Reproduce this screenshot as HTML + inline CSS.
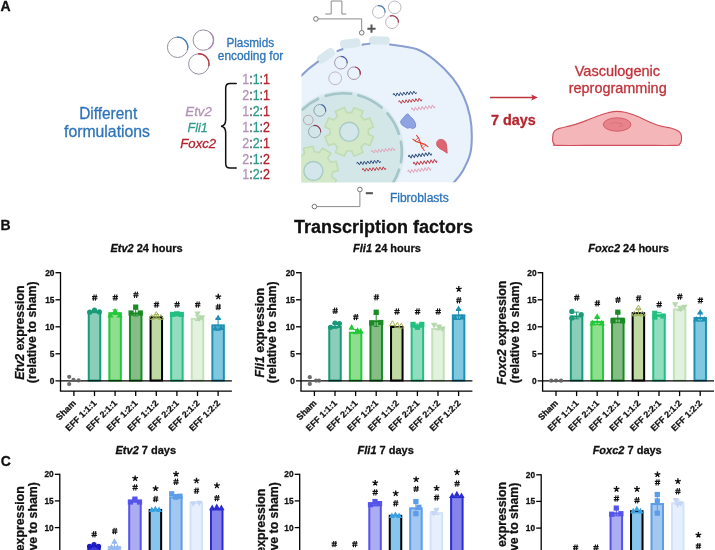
<!DOCTYPE html><html><head><meta charset="utf-8"><title>Figure</title>
<style>html,body{margin:0;padding:0;background:#fff;}body{width:715px;height:550px;overflow:hidden;}svg{display:block;will-change:transform;font-family:"Liberation Sans",sans-serif;}.k text{stroke:#111;stroke-width:0.28px;}</style></head><body>
<svg width="715" height="550" viewBox="0 0 715 550">
<rect width="715" height="550" fill="#fff"/>
<text x="0.4" y="10.7" font-size="14" font-weight="bold" fill="#111" stroke="#111" stroke-width="0.3">A</text>
<circle cx="177.6" cy="47.3" r="10.2" fill="none" stroke="#96919f" stroke-width="1.0"/><path d="M176.71,37.14A10.2,10.2 0 0 1 187.45,49.94" fill="none" stroke="#3c80c0" stroke-width="1.35"/>
<circle cx="203.3" cy="40.1" r="10.2" fill="none" stroke="#96919f" stroke-width="1.0"/><path d="M209.86,32.29A10.2,10.2 0 0 1 208.40,48.93" fill="none" stroke="#a98bb0" stroke-width="1.35"/>
<circle cx="198.8" cy="64.0" r="10.2" fill="none" stroke="#96919f" stroke-width="1.0"/><path d="M197.91,53.84A10.2,10.2 0 0 1 208.78,66.12" fill="none" stroke="#b83542" stroke-width="1.35"/>
<text x="250.3" y="46.5" text-anchor="middle" font-size="12.5" fill="#2e74b8" textLength="47.8" lengthAdjust="spacingAndGlyphs" stroke="#2e74b8" stroke-width="0.3">Plasmids</text>
<text x="250.5" y="60.2" text-anchor="middle" font-size="12.3" fill="#2e74b8" textLength="65.4" lengthAdjust="spacingAndGlyphs" stroke="#2e74b8" stroke-width="0.3">encoding for</text>
<text x="108.2" y="118.6" text-anchor="middle" font-size="16.2" fill="#2e74b8" textLength="58" lengthAdjust="spacingAndGlyphs" stroke="#2e74b8" stroke-width="0.3">Different</text>
<text x="107" y="136.9" text-anchor="middle" font-size="16.2" fill="#2e74b8" textLength="86" lengthAdjust="spacingAndGlyphs" stroke="#2e74b8" stroke-width="0.3">formulations</text>
<text x="198.6" y="115.6" text-anchor="middle" font-size="13.6" font-style="italic" fill="#b394b8" textLength="26.6" lengthAdjust="spacingAndGlyphs" stroke="#b394b8" stroke-width="0.3">Etv2</text>
<text x="197.6" y="131.6" text-anchor="middle" font-size="13.6" font-style="italic" fill="#2f9c8c" textLength="20.1" lengthAdjust="spacingAndGlyphs" stroke="#2f9c8c" stroke-width="0.3">Fli1</text>
<text x="198.2" y="148.1" text-anchor="middle" font-size="13.6" font-style="italic" fill="#b4222c" textLength="35.9" lengthAdjust="spacingAndGlyphs" stroke="#b4222c" stroke-width="0.3">Foxc2</text>
<text x="242.3" y="84.0" font-size="14" textLength="27.7" lengthAdjust="spacingAndGlyphs"><tspan fill="#b394b8" stroke="#b394b8" stroke-width="0.3">1</tspan><tspan fill="#555" stroke="#555" stroke-width="0.3">:</tspan><tspan fill="#2f9c8c" stroke="#2f9c8c" stroke-width="0.3">1</tspan><tspan fill="#555" stroke="#555" stroke-width="0.3">:</tspan><tspan fill="#b4222c" stroke="#b4222c" stroke-width="0.3">1</tspan></text>
<text x="242.3" y="99.9" font-size="14" textLength="27.7" lengthAdjust="spacingAndGlyphs"><tspan fill="#b394b8" stroke="#b394b8" stroke-width="0.3">2</tspan><tspan fill="#555" stroke="#555" stroke-width="0.3">:</tspan><tspan fill="#2f9c8c" stroke="#2f9c8c" stroke-width="0.3">1</tspan><tspan fill="#555" stroke="#555" stroke-width="0.3">:</tspan><tspan fill="#b4222c" stroke="#b4222c" stroke-width="0.3">1</tspan></text>
<text x="242.3" y="115.8" font-size="14" textLength="27.7" lengthAdjust="spacingAndGlyphs"><tspan fill="#b394b8" stroke="#b394b8" stroke-width="0.3">1</tspan><tspan fill="#555" stroke="#555" stroke-width="0.3">:</tspan><tspan fill="#2f9c8c" stroke="#2f9c8c" stroke-width="0.3">2</tspan><tspan fill="#555" stroke="#555" stroke-width="0.3">:</tspan><tspan fill="#b4222c" stroke="#b4222c" stroke-width="0.3">1</tspan></text>
<text x="242.3" y="131.7" font-size="14" textLength="27.7" lengthAdjust="spacingAndGlyphs"><tspan fill="#b394b8" stroke="#b394b8" stroke-width="0.3">1</tspan><tspan fill="#555" stroke="#555" stroke-width="0.3">:</tspan><tspan fill="#2f9c8c" stroke="#2f9c8c" stroke-width="0.3">1</tspan><tspan fill="#555" stroke="#555" stroke-width="0.3">:</tspan><tspan fill="#b4222c" stroke="#b4222c" stroke-width="0.3">2</tspan></text>
<text x="242.3" y="147.6" font-size="14" textLength="27.7" lengthAdjust="spacingAndGlyphs"><tspan fill="#b394b8" stroke="#b394b8" stroke-width="0.3">2</tspan><tspan fill="#555" stroke="#555" stroke-width="0.3">:</tspan><tspan fill="#2f9c8c" stroke="#2f9c8c" stroke-width="0.3">2</tspan><tspan fill="#555" stroke="#555" stroke-width="0.3">:</tspan><tspan fill="#b4222c" stroke="#b4222c" stroke-width="0.3">1</tspan></text>
<text x="242.3" y="163.5" font-size="14" textLength="27.7" lengthAdjust="spacingAndGlyphs"><tspan fill="#b394b8" stroke="#b394b8" stroke-width="0.3">2</tspan><tspan fill="#555" stroke="#555" stroke-width="0.3">:</tspan><tspan fill="#2f9c8c" stroke="#2f9c8c" stroke-width="0.3">1</tspan><tspan fill="#555" stroke="#555" stroke-width="0.3">:</tspan><tspan fill="#b4222c" stroke="#b4222c" stroke-width="0.3">2</tspan></text>
<text x="242.3" y="179.4" font-size="14" textLength="27.7" lengthAdjust="spacingAndGlyphs"><tspan fill="#b394b8" stroke="#b394b8" stroke-width="0.3">1</tspan><tspan fill="#555" stroke="#555" stroke-width="0.3">:</tspan><tspan fill="#2f9c8c" stroke="#2f9c8c" stroke-width="0.3">2</tspan><tspan fill="#555" stroke="#555" stroke-width="0.3">:</tspan><tspan fill="#b4222c" stroke="#b4222c" stroke-width="0.3">2</tspan></text>
<path d="M236.2,83.4 H230 Q225.7,83.4 225.7,88 V119.5 Q225.7,125.8 221,126.2 Q225.7,126.6 225.7,133 V163.4 Q225.7,168 230,168 H236.2" fill="none" stroke="#111" stroke-width="1.5" stroke-linecap="round"/>
<defs><clipPath id="cellclip"><rect x="301.5" y="0" width="200" height="182.2"/></clipPath></defs>
<g clip-path="url(#cellclip)">
<path d="M262.0,160.0C261.7,148.0 266.4,129.2 270.0,118.0C273.6,106.8 278.6,100.1 283.8,93.0C289.0,85.9 295.8,80.7 301.4,75.5C307.0,70.3 311.6,65.9 317.7,61.8C323.8,57.7 330.1,53.8 337.7,50.9C345.3,48.0 356.6,45.7 363.2,44.5C369.8,43.3 372.5,43.5 377.0,43.5C381.5,43.5 383.4,43.6 390.0,44.5C396.6,45.4 409.0,46.5 416.4,49.1C423.8,51.7 428.4,55.1 434.5,60.0C440.6,64.8 447.8,72.1 452.7,78.2C457.6,84.3 460.7,90.0 463.6,96.4C466.5,102.8 468.6,109.7 470.0,116.4C471.4,123.1 471.8,130.1 471.8,136.4C471.8,142.8 471.5,148.8 470.0,154.5C468.5,160.2 465.3,166.3 462.7,170.9C460.1,175.5 458.9,177.0 454.5,181.8C450.1,186.7 445.1,193.3 436.0,200.0C426.9,206.7 414.3,217.0 400.0,222.0C385.7,227.0 366.7,231.2 350.0,230.0C333.3,228.8 313.0,221.7 300.0,215.0C287.0,208.3 278.3,199.2 272.0,190.0C265.7,180.8 262.3,172.0 262.0,160.0Z" fill="#eaf3fc"/>
<rect x="340.05" y="39.0" width="20.5" height="9" rx="4" fill="#d9e8ee" transform="rotate(-7 350.3 43.5)"/>
<rect x="368.9" y="36.4" width="21" height="8.2" rx="4" fill="#d9e8ee" transform="rotate(1 379.4 40.5)"/>
<rect x="316.15" y="51.3" width="19.5" height="9" rx="4" fill="#d9e8ee" transform="rotate(-35 325.9 55.8)"/>
<path d="M390.0,44.5C394.4,45.3 409.0,46.5 416.4,49.1C423.8,51.7 428.4,55.1 434.5,60.0C440.6,64.8 447.8,72.1 452.7,78.2C457.6,84.3 460.7,90.0 463.6,96.4C466.5,102.8 468.6,109.7 470.0,116.4C471.4,123.1 471.8,130.1 471.8,136.4C471.8,142.8 471.5,148.8 470.0,154.5C468.5,160.2 465.3,166.3 462.7,170.9C460.1,175.5 457.3,178.6 454.5,181.8C451.7,185.0 447.4,188.6 446.0,190.0" fill="none" stroke="#8a9ed0" stroke-width="2.1" stroke-linecap="round"/>
<path d="M300,77 Q308,68.5 318,61.6" fill="none" stroke="#8a9ed0" stroke-width="2.1" stroke-linecap="round"/>
<path d="M337.5,51 Q340,50 342.5,49.2" fill="none" stroke="#8a9ed0" stroke-width="2.1" stroke-linecap="round"/>
<path d="M362.5,44.6 Q366,44 369.5,43.7" fill="none" stroke="#8a9ed0" stroke-width="2.1" stroke-linecap="round"/>
<circle cx="343" cy="152" r="61.5" fill="#dcebef"/>
<circle cx="343" cy="152" r="58.5" fill="#d3e6e8"/>
<path d="M287.7,131.9A58.8,58.8 0 0 1 297.3,115.0M302.2,109.7A58.8,58.8 0 0 1 318.2,98.7M325.8,95.8A58.8,58.8 0 0 1 351.2,93.8M358.2,95.2A58.8,58.8 0 0 1 381.6,107.6M387.4,113.4A58.8,58.8 0 0 1 398.9,133.8M400.9,141.8A58.8,58.8 0 0 1 400.9,162.2M399.1,169.7A58.8,58.8 0 0 1 387.4,190.6M382.3,195.7A58.8,58.8 0 0 1 363.1,207.3" fill="none" stroke="#a4c5c9" stroke-width="2.6" stroke-linecap="round"/>
<path d="M368.34,134.29L373.52,136.64L369.82,145.58L364.50,143.57L360.97,147.10L362.98,152.42L354.04,156.12L351.69,150.94L346.71,150.94L344.36,156.12L335.42,152.42L337.43,147.10L333.90,143.57L328.58,145.58L324.88,136.64L330.06,134.29L330.06,129.31L324.88,126.96L328.58,118.02L333.90,120.03L337.43,116.50L335.42,111.18L344.36,107.48L346.71,112.66L351.69,112.66L354.04,107.48L362.98,111.18L360.97,116.50L364.50,120.03L369.82,118.02L373.52,126.96L368.34,129.31Z" fill="#d2e8c6" stroke="#c0dcb2" stroke-width="1.6" stroke-linejoin="round"/><circle cx="349.2" cy="131.8" r="9.6" fill="#d3e6ea" stroke="#aacbc4" stroke-width="1.4"/>
<path d="M331.76,176.94L336.43,180.19L331.16,188.31L326.30,185.36L322.18,188.18L323.19,193.79L313.72,195.80L312.36,190.27L307.46,189.36L304.21,194.03L296.09,188.76L299.04,183.90L296.22,179.78L290.61,180.79L288.60,171.32L294.13,169.96L295.04,165.06L290.37,161.81L295.64,153.69L300.50,156.64L304.62,153.82L303.61,148.21L313.08,146.20L314.44,151.73L319.34,152.64L322.59,147.97L330.71,153.24L327.76,158.10L330.58,162.22L336.19,161.21L338.20,170.68L332.67,172.04Z" fill="#d2e8c6" stroke="#c0dcb2" stroke-width="1.6" stroke-linejoin="round"/><circle cx="313.4" cy="171.0" r="9.5" fill="#d3e6ea" stroke="#aacbc4" stroke-width="1.4"/>
<circle cx="319.8" cy="110.4" r="5.9" fill="none" stroke="#8398aa" stroke-width="0.9"/><path d="M321.33,104.70A5.9,5.9 0 0 1 325.57,111.63" fill="none" stroke="#4a6cb4" stroke-width="1.25"/>
<circle cx="308.3" cy="120" r="4.8" fill="none" stroke="#b79fae" stroke-width="0.9"/>
<circle cx="314.6" cy="131.6" r="6.1" fill="none" stroke="#8ea3ab" stroke-width="0.9"/><path d="M313.54,125.59A6.1,6.1 0 0 1 320.68,132.13" fill="none" stroke="#933650" stroke-width="1.25"/>
<circle cx="340.9" cy="62.7" r="6.3" fill="none" stroke="#9a8ea8" stroke-width="0.9"/><path d="M340.90,56.40A6.3,6.3 0 0 1 347.18,63.25" fill="none" stroke="#4a62b4" stroke-width="1.25"/>
<circle cx="354.0" cy="73.2" r="6.3" fill="none" stroke="#a08e9c" stroke-width="0.9"/><path d="M355.09,67.00A6.3,6.3 0 0 1 360.16,74.51" fill="none" stroke="#9a3850" stroke-width="1.25"/>
<circle cx="335.2" cy="78.3" r="6.4" fill="none" stroke="#bcaebc" stroke-width="0.9"/>
<path d="M0,0L0.84,-1.55L2.51,1.55L4.18,-1.55L5.86,1.55L7.53,-1.55L9.21,1.55L10.88,-1.55L12.55,1.55L14.23,-1.55L15.90,1.55L17.58,-1.55L19.25,1.55L20.92,-1.55L22.60,1.55L23.43,0" transform="translate(393.1,94.9) rotate(-6.12)" fill="none" stroke="#2c4a78" stroke-width="0.95" stroke-linejoin="round"/>
<path d="M0,0L0.83,-1.55L2.49,1.55L4.15,-1.55L5.81,1.55L7.48,-1.55L9.14,1.55L10.80,-1.55L12.46,1.55L14.12,-1.55L15.78,1.55L17.44,-1.55L19.10,1.55L20.77,-1.55L22.43,1.55L23.26,0" transform="translate(398.7,102.2) rotate(-6.67)" fill="none" stroke="#bf3a44" stroke-width="0.95" stroke-linejoin="round"/>
<path d="M0,0L0.86,-1.55L2.57,1.55L4.29,-1.55L6.00,1.55L7.71,-1.55L9.43,1.55L11.14,-1.55L12.86,1.55L14.57,-1.55L16.29,1.55L18.00,-1.55L19.72,1.55L21.43,-1.55L23.14,1.55L24.00,0" transform="translate(411.3,109.5) rotate(-7.42)" fill="none" stroke="#e3a3b9" stroke-width="0.95" stroke-linejoin="round"/>
<path d="M0,0L0.84,-1.55L2.51,1.55L4.18,-1.55L5.85,1.55L7.53,-1.55L9.20,1.55L10.87,-1.55L12.55,1.55L14.22,-1.55L15.89,1.55L17.56,-1.55L19.24,1.55L20.91,-1.55L22.58,1.55L23.42,0" transform="translate(408.4,156.8) rotate(-7.85)" fill="none" stroke="#2c4a78" stroke-width="0.95" stroke-linejoin="round"/>
<path d="M0,0L0.86,-1.55L2.58,1.55L4.30,-1.55L6.02,1.55L7.74,-1.55L9.46,1.55L11.18,-1.55L12.90,1.55L14.62,-1.55L16.35,1.55L18.07,-1.55L19.79,1.55L21.51,-1.55L23.23,1.55L24.09,0" transform="translate(413.2,163.8) rotate(-7.15)" fill="none" stroke="#bf3a44" stroke-width="0.95" stroke-linejoin="round"/>
<path d="M0,0L0.84,-1.55L2.51,1.55L4.18,-1.55L5.85,1.55L7.53,-1.55L9.20,1.55L10.87,-1.55L12.55,1.55L14.22,-1.55L15.89,1.55L17.56,-1.55L19.24,1.55L20.91,-1.55L22.58,1.55L23.42,0" transform="translate(407.7,171.7) rotate(-7.85)" fill="none" stroke="#e3a3b9" stroke-width="0.95" stroke-linejoin="round"/>
<path d="M0,0L0.85,-1.55L2.55,1.55L4.24,-1.55L5.94,1.55L7.64,-1.55L9.34,1.55L11.03,-1.55L12.73,1.55L14.43,-1.55L16.13,1.55L17.82,-1.55L19.52,1.55L21.22,-1.55L22.92,1.55L23.77,0" transform="translate(371.4,151.8) rotate(-6.77)" fill="none" stroke="#e3a3b9" stroke-width="0.95" stroke-linejoin="round"/>
<path d="M0,0L0.85,-1.55L2.55,1.55L4.25,-1.55L5.95,1.55L7.65,-1.55L9.35,1.55L11.06,-1.55L12.76,1.55L14.46,-1.55L16.16,1.55L17.86,-1.55L19.56,1.55L21.26,-1.55L22.96,1.55L23.81,0" transform="translate(356.8,163.6) rotate(-5.54)" fill="none" stroke="#2c4a78" stroke-width="0.95" stroke-linejoin="round"/>
<path d="M0,0L0.85,-1.55L2.54,1.55L4.23,-1.55L5.92,1.55L7.61,-1.55L9.30,1.55L10.99,-1.55L12.68,1.55L14.37,-1.55L16.06,1.55L17.75,-1.55L19.44,1.55L21.13,-1.55L22.82,1.55L23.67,0" transform="translate(362.3,170) rotate(-4.36)" fill="none" stroke="#bf3a44" stroke-width="0.95" stroke-linejoin="round"/>
<path d="M400.4,121.5 L403.5,117.6 L406.6,114.2 L408.2,114.0 L410.2,116.6 L413.2,119.2 L415.6,123.4 L415.4,127.2 L412.8,128.6 L410.2,127.6 L407.4,128.2 L404.2,126.4 L401.6,124.6 Z" fill="#8fa3e3" stroke="#7d92d6" stroke-width="1" stroke-linejoin="round"/>
<path d="M436.6,143.2 Q437.2,139.2 441.2,139.4 Q445.6,139.8 446.4,144.6 Q447,149 447.2,153.2 Q443.6,150.6 439.6,148.4 Q436.2,146.4 436.6,143.2 Z" fill="#dc6473" stroke="#cc4f60" stroke-width="0.8" stroke-linejoin="round"/>
<g transform="translate(420.4,142.9) rotate(45)" fill="none" stroke="#e2412c" stroke-width="1.1" stroke-linecap="round"><path d="M-8,-2.6 Q-4,-2.8 0,0 Q4,2.8 8,2.6"/><path d="M-8,2.6 Q-4,2.8 0,0 Q4,-2.8 8,-2.6"/><path d="M-5.2,-2.2V2.2M-3,-1.4V1.4M3,-1.4V1.4M5.2,-2.2V2.2" stroke-width="0.7"/></g>
</g>
<path d="M325.3,14H331.2V1H341.9V14H346.3" fill="none" stroke="#8a8a8a" stroke-width="1"/>
<path d="M318.2,18.9H361.7V30.5" fill="none" stroke="#8a8a8a" stroke-width="1"/>
<circle cx="315.9" cy="18.9" r="2.3" fill="#fff" stroke="#666" stroke-width="0.9"/>
<circle cx="361.7" cy="32.8" r="2.3" fill="#fff" stroke="#666" stroke-width="0.9"/>
<path d="M367.4,28.7H375.6M371.5,24.6V32.8" stroke="#555" stroke-width="2" fill="none"/>
<path d="M359.9,191.8V206.6H316.7" fill="none" stroke="#8a8a8a" stroke-width="1"/>
<circle cx="359.9" cy="189.5" r="2.3" fill="#fff" stroke="#666" stroke-width="0.9"/>
<circle cx="314.4" cy="206.6" r="2.3" fill="#fff" stroke="#666" stroke-width="0.9"/>
<path d="M365.8,193.2H372.9" stroke="#555" stroke-width="2.1" fill="none"/>
<circle cx="378.8" cy="11.9" r="6.3" fill="none" stroke="#b2aeba" stroke-width="0.9"/><path d="M377.71,5.70A6.3,6.3 0 0 1 385.08,12.45" fill="none" stroke="#4c80b8" stroke-width="1.25"/>
<circle cx="394.7" cy="7.3" r="6.3" fill="none" stroke="#b6b0bc" stroke-width="0.9"/>
<circle cx="392" cy="22.1" r="6.4" fill="none" stroke="#bba8b0" stroke-width="0.9"/><path d="M389.81,16.09A6.4,6.4 0 0 1 398.38,22.66" fill="none" stroke="#a84456" stroke-width="1.25"/>
<text x="419.3" y="202.1" text-anchor="middle" font-size="12" fill="#2e74b8" textLength="58.8" lengthAdjust="spacingAndGlyphs" stroke="#2e74b8" stroke-width="0.3">Fibroblasts</text>
<path d="M490,97.5H534" stroke="#be343e" stroke-width="1.3" fill="none"/><path d="M538,97.5L531.2,94.6L532.6,97.5L531.2,100.4Z" fill="#be343e"/>
<text x="513.3" y="125.2" text-anchor="middle" font-size="14.9" font-weight="bold" fill="#b5252f" textLength="44.6" lengthAdjust="spacingAndGlyphs" stroke="#b5252f" stroke-width="0.3">7 days</text>
<text x="617.4" y="76.2" text-anchor="middle" font-size="14.5" fill="#c0323a" textLength="85.4" lengthAdjust="spacingAndGlyphs" stroke="#c0323a" stroke-width="0.3">Vasculogenic</text>
<text x="617.7" y="92.7" text-anchor="middle" font-size="14.5" fill="#c0323a" textLength="98" lengthAdjust="spacingAndGlyphs" stroke="#c0323a" stroke-width="0.3">reprogramming</text>
<path d="M552.7,137.5C552.8,136.0 552.9,133.9 553.5,132.6C554.1,131.2 555.2,130.2 556.6,129.4C558.0,128.6 559.8,128.3 562.0,127.7C564.2,127.1 566.9,126.8 570.0,125.9C573.1,125.1 577.4,123.8 580.7,122.6C584.0,121.4 586.8,120.2 590.0,119.0C593.2,117.8 597.0,116.3 600.0,115.3C603.0,114.2 605.2,113.3 608.0,112.7C610.8,112.1 613.9,111.4 616.9,111.4C619.9,111.4 623.1,111.9 626.0,112.5C628.9,113.1 631.6,114.1 634.0,115.0C636.4,115.9 637.7,116.5 640.4,117.7C643.1,118.9 647.2,121.0 650.0,122.2C652.8,123.4 654.8,124.2 657.1,125.0C659.4,125.8 661.8,126.3 664.0,126.8C666.2,127.3 668.4,127.4 670.6,128.0C672.8,128.6 675.4,129.4 677.0,130.2C678.6,131.0 679.6,131.9 680.4,133.0C681.1,134.1 681.4,135.1 681.5,136.5C681.6,137.9 681.6,140.2 681.2,141.5C680.8,142.8 680.2,143.8 679.2,144.5C678.2,145.2 681.5,145.2 675.0,145.4C668.5,145.6 652.5,145.4 640.0,145.4C627.5,145.4 613.8,145.4 600.0,145.4C586.2,145.4 565.1,145.6 557.5,145.4C549.9,145.2 555.1,145.0 554.3,144.3C553.5,143.7 553.1,142.6 552.8,141.5C552.5,140.4 552.6,139.0 552.7,137.5Z" fill="#f5b6ba" stroke="#d0505c" stroke-width="1.15" stroke-linejoin="round"/>
<ellipse cx="617.1" cy="124.5" rx="13.8" ry="6.7" fill="#e9838b" stroke="#cf5862" stroke-width="0.9"/>
<path d="M609.5,123.6 Q616,121.6 622,123.8 Q624,126.2 619,126.4" fill="none" stroke="#d86a74" stroke-width="0.7"/>
<g class="k">
<text x="0.6" y="229.5" font-size="14" font-weight="bold" fill="#111">B</text>
<text x="0.8" y="466.3" font-size="14" font-weight="bold" fill="#111">C</text>
<text x="383.5" y="233" text-anchor="middle" font-size="18" font-weight="bold" fill="#111">Transcription factors</text>
<text x="146.5" y="251.7" text-anchor="middle" font-size="11" font-weight="bold" fill="#111"><tspan font-style="italic">Etv2</tspan> 24 hours</text>
<text transform="translate(23.5,332.7) rotate(-90)" text-anchor="middle" font-size="12.3" font-weight="bold" fill="#111"><tspan font-style="italic">Etv2</tspan> expression</text>
<text transform="translate(36.1,332.3) rotate(-90)" text-anchor="middle" font-size="12.3" font-weight="bold" fill="#111">(relative to sham)</text>
<rect x="88.75" y="312.11" width="11.50" height="68.39" fill="#8acdb8" stroke="#1a9a78" stroke-width="2"/>
<rect x="109.35" y="313.19" width="11.50" height="67.31" fill="#8ede8e" stroke="#22c838" stroke-width="2"/>
<rect x="129.95" y="313.46" width="11.50" height="67.04" fill="#86bd86" stroke="#1a8a24" stroke-width="2"/>
<rect x="150.55" y="317.25" width="11.50" height="63.25" fill="#bedaa2" stroke="#000000" stroke-width="2"/>
<rect x="171.15" y="315.09" width="11.50" height="65.41" fill="#92dcc0" stroke="#22c080" stroke-width="2"/>
<rect x="191.75" y="318.87" width="11.50" height="61.63" fill="#e2f2de" stroke="#c2e2ba" stroke-width="2"/>
<rect x="212.35" y="325.37" width="11.50" height="55.13" fill="#80c8e0" stroke="#2090b2" stroke-width="2"/>
<path d="M55.5,380.9H231.9" stroke="#000" stroke-width="1.3" fill="none"/>
<path d="M60.5,272.1V391.1" stroke="#000" stroke-width="1.3" fill="none"/>
<path d="M59.85,391.1H231.9" stroke="#000" stroke-width="1.3" fill="none"/>
<path d="M73.9,391.1v5" stroke="#000" stroke-width="1.3" fill="none"/>
<path d="M94.5,391.1v5" stroke="#000" stroke-width="1.3" fill="none"/>
<path d="M115.1,391.1v5" stroke="#000" stroke-width="1.3" fill="none"/>
<path d="M135.7,391.1v5" stroke="#000" stroke-width="1.3" fill="none"/>
<path d="M156.3,391.1v5" stroke="#000" stroke-width="1.3" fill="none"/>
<path d="M176.9,391.1v5" stroke="#000" stroke-width="1.3" fill="none"/>
<path d="M197.5,391.1v5" stroke="#000" stroke-width="1.3" fill="none"/>
<path d="M218.1,391.1v5" stroke="#000" stroke-width="1.3" fill="none"/>
<text x="54.4" y="383.8" text-anchor="end" font-size="8.3" font-weight="bold" fill="#111">0</text>
<path d="M55.5,353.8H60.5" stroke="#000" stroke-width="1.3" fill="none"/>
<text x="54.4" y="356.8" text-anchor="end" font-size="8.3" font-weight="bold" fill="#111">5</text>
<path d="M55.5,326.8H60.5" stroke="#000" stroke-width="1.3" fill="none"/>
<text x="54.4" y="329.7" text-anchor="end" font-size="8.3" font-weight="bold" fill="#111">10</text>
<path d="M55.5,299.8H60.5" stroke="#000" stroke-width="1.3" fill="none"/>
<text x="54.4" y="302.7" text-anchor="end" font-size="8.3" font-weight="bold" fill="#111">15</text>
<path d="M55.5,272.7H60.5" stroke="#000" stroke-width="1.3" fill="none"/>
<text x="54.4" y="275.6" text-anchor="end" font-size="8.3" font-weight="bold" fill="#111">20</text>
<circle cx="89.7" cy="312.2" r="2.6" fill="#1a9a78"/>
<circle cx="94.5" cy="310.0" r="2.6" fill="#1a9a78"/>
<circle cx="99.3" cy="311.9" r="2.6" fill="#1a9a78"/>
<path d="M115.1,309.9V314.5M112.5,309.9h5.2M112.5,314.5h5.2" stroke="#22c838" stroke-width="1" fill="none"/>
<path d="M110.5,311.9L113.6,317.5H107.4Z" fill="#22c838"/>
<path d="M115.1,307.9L118.2,313.5H112.0Z" fill="#22c838"/>
<path d="M119.7,311.9L122.8,317.5H116.6Z" fill="#22c838"/>
<path d="M135.7,309.0V315.9M133.1,309.0h5.2M133.1,315.9h5.2" stroke="#1a8a24" stroke-width="1" fill="none"/>
<rect x="133.1" y="304.5" width="5.2" height="5.2" fill="#1a8a24"/>
<rect x="128.5" y="310.4" width="5.2" height="5.2" fill="#1a8a24"/>
<rect x="137.7" y="310.4" width="5.2" height="5.2" fill="#1a8a24"/>
<path d="M156.3,314.5V318.0M153.7,314.5h5.2M153.7,318.0h5.2" stroke="#a2b358" stroke-width="1" fill="none"/>
<path d="M156.3,311.6L159.0,316.3H153.6Z" fill="none" stroke="#a2b358" stroke-width="1"/>
<path d="M151.7,314.6L154.4,319.3H149.0Z" fill="none" stroke="#a2b358" stroke-width="1"/>
<path d="M160.9,314.6L163.6,319.3H158.2Z" fill="none" stroke="#a2b358" stroke-width="1"/>
<rect x="169.9" y="311.8" width="5.2" height="5.2" fill="#22c080"/>
<rect x="174.3" y="311.2" width="5.2" height="5.2" fill="#22c080"/>
<rect x="178.7" y="311.8" width="5.2" height="5.2" fill="#22c080"/>
<path d="M197.5,315.3V320.4M194.9,315.3h5.2M194.9,320.4h5.2" stroke="#b4d8ac" stroke-width="1" fill="none"/>
<path d="M197.5,317.1L200.6,311.5H194.4Z" fill="#b4d8ac"/>
<path d="M202.1,320.9L205.2,315.3H199.0Z" fill="#b4d8ac"/>
<path d="M199.0,321.9L202.1,316.3H195.9Z" fill="#b4d8ac"/>
<path d="M218.1,318.4V330.3M215.5,318.4h5.2M215.5,330.3h5.2" stroke="#2090b2" stroke-width="1" fill="none"/>
<path d="M218.1,314.4L221.2,319.9H215.0Z" fill="#2090b2"/>
<path d="M215.3,324.9L218.4,330.5H212.2Z" fill="#2090b2"/>
<path d="M220.9,324.4L224.0,330.0H217.8Z" fill="#2090b2"/>
<path d="M92.0,296.6h5.4M92.0,298.7h5.4M94.2,294.5l-1.0,6.2M96.3,294.5l-1.0,6.2" stroke="#111" stroke-width="1.1" fill="none"/>
<path d="M112.6,296.6h5.4M112.6,298.7h5.4M114.8,294.5l-1.0,6.2M116.9,294.5l-1.0,6.2" stroke="#111" stroke-width="1.1" fill="none"/>
<path d="M133.2,293.7h5.4M133.2,295.8h5.4M135.4,291.6l-1.0,6.2M137.5,291.6l-1.0,6.2" stroke="#111" stroke-width="1.1" fill="none"/>
<path d="M153.8,303.6h5.4M153.8,305.7h5.4M156.0,301.5l-1.0,6.2M158.1,301.5l-1.0,6.2" stroke="#111" stroke-width="1.1" fill="none"/>
<path d="M174.4,303.6h5.4M174.4,305.7h5.4M176.6,301.5l-1.0,6.2M178.7,301.5l-1.0,6.2" stroke="#111" stroke-width="1.1" fill="none"/>
<path d="M195.0,303.6h5.4M195.0,305.7h5.4M197.2,301.5l-1.0,6.2M199.3,301.5l-1.0,6.2" stroke="#111" stroke-width="1.1" fill="none"/>
<path d="M218.3,296.7L218.30,293.70M218.3,296.7L221.15,295.77M218.3,296.7L220.06,299.13M218.3,296.7L216.54,299.13M218.3,296.7L215.45,295.77" stroke="#111" stroke-width="1.35" fill="none"/>
<path d="M215.6,306.0h5.4M215.6,308.1h5.4M217.8,303.9l-1.0,6.2M219.9,303.9l-1.0,6.2" stroke="#111" stroke-width="1.1" fill="none"/>
<circle cx="69.2" cy="376.8" r="2.1" fill="#6e6e6e"/>
<circle cx="69.2" cy="384.1" r="2.1" fill="#6e6e6e"/>
<circle cx="73.5" cy="379.8" r="2.1" fill="#6e6e6e"/>
<circle cx="78.6" cy="380.4" r="2.1" fill="#6e6e6e"/>
<path d="M68.9,380.9H79.9" stroke="#555" stroke-width="1.1"/>
<text transform="translate(76.5,403.70000000000005) rotate(-45)" text-anchor="end" font-size="8.8" font-weight="bold" fill="#111">Sham</text>
<text transform="translate(97.1,403.70000000000005) rotate(-45)" text-anchor="end" font-size="8.8" font-weight="bold" fill="#111">EFF 1:1:1</text>
<text transform="translate(117.7,403.70000000000005) rotate(-45)" text-anchor="end" font-size="8.8" font-weight="bold" fill="#111">EFF 2:1:1</text>
<text transform="translate(138.3,403.70000000000005) rotate(-45)" text-anchor="end" font-size="8.8" font-weight="bold" fill="#111">EFF 1:2:1</text>
<text transform="translate(158.9,403.70000000000005) rotate(-45)" text-anchor="end" font-size="8.8" font-weight="bold" fill="#111">EFF 1:1:2</text>
<text transform="translate(179.5,403.70000000000005) rotate(-45)" text-anchor="end" font-size="8.8" font-weight="bold" fill="#111">EFF 2:2:1</text>
<text transform="translate(200.1,403.70000000000005) rotate(-45)" text-anchor="end" font-size="8.8" font-weight="bold" fill="#111">EFF 2:1:2</text>
<text transform="translate(220.7,403.70000000000005) rotate(-45)" text-anchor="end" font-size="8.8" font-weight="bold" fill="#111">EFF 1:2:2</text>
<text x="387.0" y="251.7" text-anchor="middle" font-size="11" font-weight="bold" fill="#111"><tspan font-style="italic">Fli1</tspan> 24 hours</text>
<text transform="translate(263.7,332.7) rotate(-90)" text-anchor="middle" font-size="12.3" font-weight="bold" fill="#111"><tspan font-style="italic">Fli1</tspan> expression</text>
<text transform="translate(276.3,332.3) rotate(-90)" text-anchor="middle" font-size="12.3" font-weight="bold" fill="#111">(relative to sham)</text>
<rect x="329.25" y="326.99" width="11.50" height="53.51" fill="#8acdb8" stroke="#1a9a78" stroke-width="2"/>
<rect x="349.85" y="332.67" width="11.50" height="47.83" fill="#8ede8e" stroke="#22c838" stroke-width="2"/>
<rect x="370.45" y="321.31" width="11.50" height="59.19" fill="#86bd86" stroke="#1a8a24" stroke-width="2"/>
<rect x="391.05" y="326.99" width="11.50" height="53.51" fill="#bedaa2" stroke="#000000" stroke-width="2"/>
<rect x="411.65" y="326.72" width="11.50" height="53.78" fill="#92dcc0" stroke="#22c080" stroke-width="2"/>
<rect x="432.25" y="328.88" width="11.50" height="51.62" fill="#e2f2de" stroke="#c2e2ba" stroke-width="2"/>
<rect x="452.85" y="315.36" width="11.50" height="65.14" fill="#80c8e0" stroke="#2090b2" stroke-width="2"/>
<path d="M296.0,380.9H472.4" stroke="#000" stroke-width="1.3" fill="none"/>
<path d="M301.0,272.1V391.1" stroke="#000" stroke-width="1.3" fill="none"/>
<path d="M300.35,391.1H472.4" stroke="#000" stroke-width="1.3" fill="none"/>
<path d="M314.4,391.1v5" stroke="#000" stroke-width="1.3" fill="none"/>
<path d="M335.0,391.1v5" stroke="#000" stroke-width="1.3" fill="none"/>
<path d="M355.6,391.1v5" stroke="#000" stroke-width="1.3" fill="none"/>
<path d="M376.2,391.1v5" stroke="#000" stroke-width="1.3" fill="none"/>
<path d="M396.8,391.1v5" stroke="#000" stroke-width="1.3" fill="none"/>
<path d="M417.4,391.1v5" stroke="#000" stroke-width="1.3" fill="none"/>
<path d="M438.0,391.1v5" stroke="#000" stroke-width="1.3" fill="none"/>
<path d="M458.6,391.1v5" stroke="#000" stroke-width="1.3" fill="none"/>
<text x="294.9" y="383.8" text-anchor="end" font-size="8.3" font-weight="bold" fill="#111">0</text>
<path d="M296.0,353.8H301.0" stroke="#000" stroke-width="1.3" fill="none"/>
<text x="294.9" y="356.8" text-anchor="end" font-size="8.3" font-weight="bold" fill="#111">5</text>
<path d="M296.0,326.8H301.0" stroke="#000" stroke-width="1.3" fill="none"/>
<text x="294.9" y="329.7" text-anchor="end" font-size="8.3" font-weight="bold" fill="#111">10</text>
<path d="M296.0,299.8H301.0" stroke="#000" stroke-width="1.3" fill="none"/>
<text x="294.9" y="302.7" text-anchor="end" font-size="8.3" font-weight="bold" fill="#111">15</text>
<path d="M296.0,272.7H301.0" stroke="#000" stroke-width="1.3" fill="none"/>
<text x="294.9" y="275.6" text-anchor="end" font-size="8.3" font-weight="bold" fill="#111">20</text>
<path d="M335.0,323.6V328.3M332.4,323.6h5.2M332.4,328.3h5.2" stroke="#1a9a78" stroke-width="1" fill="none"/>
<circle cx="330.6" cy="327.3" r="2.6" fill="#1a9a78"/>
<circle cx="335.0" cy="323.0" r="2.6" fill="#1a9a78"/>
<circle cx="339.4" cy="323.6" r="2.6" fill="#1a9a78"/>
<path d="M355.6,329.6V333.7M353.0,329.6h5.2M353.0,333.7h5.2" stroke="#22c838" stroke-width="1" fill="none"/>
<path d="M351.6,324.1L354.7,329.7H348.5Z" fill="#22c838"/>
<path d="M357.6,327.3L360.7,332.9H354.5Z" fill="#22c838"/>
<path d="M360.6,327.9L363.7,333.5H357.5Z" fill="#22c838"/>
<path d="M376.2,314.2V326.4M373.6,314.2h5.2M373.6,326.4h5.2" stroke="#1a8a24" stroke-width="1" fill="none"/>
<rect x="373.6" y="309.6" width="5.2" height="5.2" fill="#1a8a24"/>
<rect x="369.0" y="320.4" width="5.2" height="5.2" fill="#1a8a24"/>
<rect x="378.2" y="319.9" width="5.2" height="5.2" fill="#1a8a24"/>
<path d="M392.4,320.8L395.1,325.5H389.7Z" fill="none" stroke="#a2b358" stroke-width="1"/>
<path d="M397.3,322.4L400.0,327.2H394.6Z" fill="none" stroke="#a2b358" stroke-width="1"/>
<path d="M401.3,323.2L404.0,328.0H398.6Z" fill="none" stroke="#a2b358" stroke-width="1"/>
<path d="M417.4,324.0V327.4M414.8,324.0h5.2M414.8,327.4h5.2" stroke="#22c080" stroke-width="1" fill="none"/>
<rect x="410.4" y="321.8" width="5.2" height="5.2" fill="#22c080"/>
<rect x="419.2" y="321.8" width="5.2" height="5.2" fill="#22c080"/>
<rect x="414.8" y="324.7" width="5.2" height="5.2" fill="#22c080"/>
<path d="M438.0,326.0V329.8M435.4,326.0h5.2M435.4,329.8h5.2" stroke="#b4d8ac" stroke-width="1" fill="none"/>
<path d="M434.0,328.4L437.1,322.8H430.9Z" fill="#b4d8ac"/>
<path d="M439.0,330.0L442.1,324.5H435.9Z" fill="#b4d8ac"/>
<path d="M442.5,332.2L445.6,326.6H439.4Z" fill="#b4d8ac"/>
<path d="M458.6,309.4V319.4M456.0,309.4h5.2M456.0,319.4h5.2" stroke="#2090b2" stroke-width="1" fill="none"/>
<path d="M458.6,305.4L461.7,311.0H455.5Z" fill="#2090b2"/>
<path d="M455.2,314.4L458.3,319.9H452.1Z" fill="#2090b2"/>
<path d="M462.0,313.8L465.1,319.4H458.9Z" fill="#2090b2"/>
<path d="M332.5,309.8h5.4M332.5,311.9h5.4M334.7,307.7l-1.0,6.2M336.8,307.7l-1.0,6.2" stroke="#111" stroke-width="1.1" fill="none"/>
<path d="M353.1,316.1h5.4M353.1,318.2h5.4M355.3,314.0l-1.0,6.2M357.4,314.0l-1.0,6.2" stroke="#111" stroke-width="1.1" fill="none"/>
<path d="M373.7,296.2h5.4M373.7,298.3h5.4M375.9,294.1l-1.0,6.2M378.0,294.1l-1.0,6.2" stroke="#111" stroke-width="1.1" fill="none"/>
<path d="M394.3,310.5h5.4M394.3,312.6h5.4M396.5,308.4l-1.0,6.2M398.6,308.4l-1.0,6.2" stroke="#111" stroke-width="1.1" fill="none"/>
<path d="M414.9,310.5h5.4M414.9,312.6h5.4M417.1,308.4l-1.0,6.2M419.2,308.4l-1.0,6.2" stroke="#111" stroke-width="1.1" fill="none"/>
<path d="M435.5,310.5h5.4M435.5,312.6h5.4M437.7,308.4l-1.0,6.2M439.8,308.4l-1.0,6.2" stroke="#111" stroke-width="1.1" fill="none"/>
<path d="M458.8,289.1L458.80,286.10M458.8,289.1L461.65,288.17M458.8,289.1L460.56,291.53M458.8,289.1L457.04,291.53M458.8,289.1L455.95,288.17" stroke="#111" stroke-width="1.35" fill="none"/>
<path d="M456.1,299.2h5.4M456.1,301.3h5.4M458.3,297.1l-1.0,6.2M460.4,297.1l-1.0,6.2" stroke="#111" stroke-width="1.1" fill="none"/>
<circle cx="309.8" cy="377.2" r="2.1" fill="#6e6e6e"/>
<circle cx="309.8" cy="383.9" r="2.1" fill="#6e6e6e"/>
<circle cx="316.0" cy="380.6" r="2.1" fill="#6e6e6e"/>
<circle cx="319.0" cy="380.7" r="2.1" fill="#6e6e6e"/>
<path d="M309.4,380.9H320.4" stroke="#555" stroke-width="1.1"/>
<text transform="translate(317.0,403.70000000000005) rotate(-45)" text-anchor="end" font-size="8.8" font-weight="bold" fill="#111">Sham</text>
<text transform="translate(337.6,403.70000000000005) rotate(-45)" text-anchor="end" font-size="8.8" font-weight="bold" fill="#111">EFF 1:1:1</text>
<text transform="translate(358.2,403.70000000000005) rotate(-45)" text-anchor="end" font-size="8.8" font-weight="bold" fill="#111">EFF 2:1:1</text>
<text transform="translate(378.8,403.70000000000005) rotate(-45)" text-anchor="end" font-size="8.8" font-weight="bold" fill="#111">EFF 1:2:1</text>
<text transform="translate(399.4,403.70000000000005) rotate(-45)" text-anchor="end" font-size="8.8" font-weight="bold" fill="#111">EFF 1:1:2</text>
<text transform="translate(420.0,403.70000000000005) rotate(-45)" text-anchor="end" font-size="8.8" font-weight="bold" fill="#111">EFF 2:2:1</text>
<text transform="translate(440.6,403.70000000000005) rotate(-45)" text-anchor="end" font-size="8.8" font-weight="bold" fill="#111">EFF 2:1:2</text>
<text transform="translate(461.2,403.70000000000005) rotate(-45)" text-anchor="end" font-size="8.8" font-weight="bold" fill="#111">EFF 1:2:2</text>
<text x="628.6" y="251.7" text-anchor="middle" font-size="11" font-weight="bold" fill="#111"><tspan font-style="italic">Foxc2</tspan> 24 hours</text>
<text transform="translate(506.1,332.7) rotate(-90)" text-anchor="middle" font-size="12.3" font-weight="bold" fill="#111"><tspan font-style="italic">Foxc2</tspan> expression</text>
<text transform="translate(518.7,332.3) rotate(-90)" text-anchor="middle" font-size="12.3" font-weight="bold" fill="#111">(relative to sham)</text>
<rect x="570.85" y="316.44" width="11.50" height="64.06" fill="#8acdb8" stroke="#1a9a78" stroke-width="2"/>
<rect x="591.45" y="321.85" width="11.50" height="58.65" fill="#8ede8e" stroke="#22c838" stroke-width="2"/>
<rect x="612.05" y="318.60" width="11.50" height="61.90" fill="#86bd86" stroke="#1a8a24" stroke-width="2"/>
<rect x="632.65" y="313.19" width="11.50" height="67.31" fill="#bedaa2" stroke="#000000" stroke-width="2"/>
<rect x="653.25" y="315.36" width="11.50" height="65.14" fill="#92dcc0" stroke="#22c080" stroke-width="2"/>
<rect x="673.85" y="309.41" width="11.50" height="71.09" fill="#e2f2de" stroke="#c2e2ba" stroke-width="2"/>
<rect x="694.45" y="318.06" width="11.50" height="62.44" fill="#80c8e0" stroke="#2090b2" stroke-width="2"/>
<path d="M537.6,380.9H714.0" stroke="#000" stroke-width="1.3" fill="none"/>
<path d="M542.6,272.1V391.1" stroke="#000" stroke-width="1.3" fill="none"/>
<path d="M541.95,391.1H714.0" stroke="#000" stroke-width="1.3" fill="none"/>
<path d="M556.0,391.1v5" stroke="#000" stroke-width="1.3" fill="none"/>
<path d="M576.6,391.1v5" stroke="#000" stroke-width="1.3" fill="none"/>
<path d="M597.2,391.1v5" stroke="#000" stroke-width="1.3" fill="none"/>
<path d="M617.8,391.1v5" stroke="#000" stroke-width="1.3" fill="none"/>
<path d="M638.4,391.1v5" stroke="#000" stroke-width="1.3" fill="none"/>
<path d="M659.0,391.1v5" stroke="#000" stroke-width="1.3" fill="none"/>
<path d="M679.6,391.1v5" stroke="#000" stroke-width="1.3" fill="none"/>
<path d="M700.2,391.1v5" stroke="#000" stroke-width="1.3" fill="none"/>
<text x="536.5" y="383.8" text-anchor="end" font-size="8.3" font-weight="bold" fill="#111">0</text>
<path d="M537.6,353.8H542.6" stroke="#000" stroke-width="1.3" fill="none"/>
<text x="536.5" y="356.8" text-anchor="end" font-size="8.3" font-weight="bold" fill="#111">5</text>
<path d="M537.6,326.8H542.6" stroke="#000" stroke-width="1.3" fill="none"/>
<text x="536.5" y="329.7" text-anchor="end" font-size="8.3" font-weight="bold" fill="#111">10</text>
<path d="M537.6,299.8H542.6" stroke="#000" stroke-width="1.3" fill="none"/>
<text x="536.5" y="302.7" text-anchor="end" font-size="8.3" font-weight="bold" fill="#111">15</text>
<path d="M537.6,272.7H542.6" stroke="#000" stroke-width="1.3" fill="none"/>
<text x="536.5" y="275.6" text-anchor="end" font-size="8.3" font-weight="bold" fill="#111">20</text>
<path d="M576.6,312.1V318.8M574.0,312.1h5.2M574.0,318.8h5.2" stroke="#1a9a78" stroke-width="1" fill="none"/>
<circle cx="571.8" cy="311.4" r="2.6" fill="#1a9a78"/>
<circle cx="581.2" cy="314.6" r="2.6" fill="#1a9a78"/>
<circle cx="571.8" cy="318.1" r="2.6" fill="#1a9a78"/>
<path d="M597.2,317.1V324.6M594.6,317.1h5.2M594.6,324.6h5.2" stroke="#22c838" stroke-width="1" fill="none"/>
<path d="M597.2,313.3L600.3,318.9H594.1Z" fill="#22c838"/>
<path d="M592.6,319.8L595.7,325.4H589.5Z" fill="#22c838"/>
<path d="M601.8,319.8L604.9,325.4H598.7Z" fill="#22c838"/>
<path d="M617.8,312.6V322.6M615.2,312.6h5.2M615.2,322.6h5.2" stroke="#1a8a24" stroke-width="1" fill="none"/>
<rect x="615.2" y="309.6" width="5.2" height="5.2" fill="#1a8a24"/>
<rect x="610.4" y="318.2" width="5.2" height="5.2" fill="#1a8a24"/>
<rect x="620.0" y="318.2" width="5.2" height="5.2" fill="#1a8a24"/>
<path d="M638.4,308.8V315.6M635.8,308.8h5.2M635.8,315.6h5.2" stroke="#a2b358" stroke-width="1" fill="none"/>
<path d="M638.4,305.1L641.1,309.9H635.7Z" fill="none" stroke="#a2b358" stroke-width="1"/>
<path d="M634.4,311.1L637.1,315.8H631.7Z" fill="none" stroke="#a2b358" stroke-width="1"/>
<path d="M642.4,311.1L645.1,315.8H639.7Z" fill="none" stroke="#a2b358" stroke-width="1"/>
<path d="M659.0,312.4V316.3M656.4,312.4h5.2M656.4,316.3h5.2" stroke="#22c080" stroke-width="1" fill="none"/>
<rect x="652.2" y="310.7" width="5.2" height="5.2" fill="#22c080"/>
<rect x="652.2" y="314.5" width="5.2" height="5.2" fill="#22c080"/>
<rect x="660.4" y="313.4" width="5.2" height="5.2" fill="#22c080"/>
<path d="M679.6,306.2V310.6M677.0,306.2h5.2M677.0,310.6h5.2" stroke="#b4d8ac" stroke-width="1" fill="none"/>
<path d="M675.2,307.9L678.3,302.3H672.1Z" fill="#b4d8ac"/>
<path d="M684.4,310.3L687.5,304.7H681.3Z" fill="#b4d8ac"/>
<path d="M680.6,312.2L683.7,306.6H677.5Z" fill="#b4d8ac"/>
<path d="M700.2,313.0V321.1M697.6,313.0h5.2M697.6,321.1h5.2" stroke="#2090b2" stroke-width="1" fill="none"/>
<path d="M700.2,308.9L703.3,314.5H697.1Z" fill="#2090b2"/>
<path d="M696.2,316.0L699.3,321.6H693.1Z" fill="#2090b2"/>
<path d="M704.2,316.0L707.3,321.6H701.1Z" fill="#2090b2"/>
<path d="M574.1,296.6h5.4M574.1,298.7h5.4M576.3,294.5l-1.0,6.2M578.4,294.5l-1.0,6.2" stroke="#111" stroke-width="1.1" fill="none"/>
<path d="M594.7,302.3h5.4M594.7,304.4h5.4M596.9,300.2l-1.0,6.2M599.0,300.2l-1.0,6.2" stroke="#111" stroke-width="1.1" fill="none"/>
<path d="M615.3,298.9h5.4M615.3,301.0h5.4M617.5,296.8l-1.0,6.2M619.6,296.8l-1.0,6.2" stroke="#111" stroke-width="1.1" fill="none"/>
<path d="M635.9,297.2h5.4M635.9,299.3h5.4M638.1,295.1l-1.0,6.2M640.2,295.1l-1.0,6.2" stroke="#111" stroke-width="1.1" fill="none"/>
<path d="M656.5,303.5h5.4M656.5,305.6h5.4M658.7,301.4l-1.0,6.2M660.8,301.4l-1.0,6.2" stroke="#111" stroke-width="1.1" fill="none"/>
<path d="M677.1,295.6h5.4M677.1,297.7h5.4M679.3,293.5l-1.0,6.2M681.4,293.5l-1.0,6.2" stroke="#111" stroke-width="1.1" fill="none"/>
<path d="M697.7,299.4h5.4M697.7,301.5h5.4M699.9,297.3l-1.0,6.2M702.0,297.3l-1.0,6.2" stroke="#111" stroke-width="1.1" fill="none"/>
<circle cx="551.2" cy="380.7" r="2.1" fill="#6e6e6e"/>
<circle cx="556.0" cy="380.6" r="2.1" fill="#6e6e6e"/>
<circle cx="561.1" cy="380.7" r="2.1" fill="#6e6e6e"/>
<path d="M551.0,380.9H562.0" stroke="#555" stroke-width="1.1"/>
<text transform="translate(558.6,403.70000000000005) rotate(-45)" text-anchor="end" font-size="8.8" font-weight="bold" fill="#111">Sham</text>
<text transform="translate(579.2,403.70000000000005) rotate(-45)" text-anchor="end" font-size="8.8" font-weight="bold" fill="#111">EFF 1:1:1</text>
<text transform="translate(599.8,403.70000000000005) rotate(-45)" text-anchor="end" font-size="8.8" font-weight="bold" fill="#111">EFF 2:1:1</text>
<text transform="translate(620.4,403.70000000000005) rotate(-45)" text-anchor="end" font-size="8.8" font-weight="bold" fill="#111">EFF 1:2:1</text>
<text transform="translate(641.0,403.70000000000005) rotate(-45)" text-anchor="end" font-size="8.8" font-weight="bold" fill="#111">EFF 1:1:2</text>
<text transform="translate(661.6,403.70000000000005) rotate(-45)" text-anchor="end" font-size="8.8" font-weight="bold" fill="#111">EFF 2:2:1</text>
<text transform="translate(682.2,403.70000000000005) rotate(-45)" text-anchor="end" font-size="8.8" font-weight="bold" fill="#111">EFF 2:1:2</text>
<text transform="translate(702.8,403.70000000000005) rotate(-45)" text-anchor="end" font-size="8.8" font-weight="bold" fill="#111">EFF 1:2:2</text>
<text x="145.8" y="453.7" text-anchor="middle" font-size="11" font-weight="bold" fill="#111"><tspan font-style="italic">Etv2</tspan> 7 days</text>
<text transform="translate(24.299999999999997,533.5) rotate(-90)" text-anchor="middle" font-size="12.3" font-weight="bold" fill="#111"><tspan font-style="italic">Etv2</tspan> expression</text>
<text transform="translate(36.9,533.1) rotate(-90)" text-anchor="middle" font-size="12.3" font-weight="bold" fill="#111">(relative to sham)</text>
<rect x="88.30" y="546.19" width="11.50" height="34.31" fill="#3a3ad4" stroke="#1c1cc4" stroke-width="2"/>
<rect x="108.75" y="546.99" width="11.50" height="33.51" fill="#bcd2f6" stroke="#a8c4f2" stroke-width="2"/>
<rect x="129.20" y="501.42" width="11.50" height="79.08" fill="#acacf2" stroke="#5454ea" stroke-width="2"/>
<rect x="149.65" y="509.94" width="11.50" height="70.55" fill="#86c6ee" stroke="#000000" stroke-width="2"/>
<rect x="170.10" y="497.42" width="11.50" height="83.08" fill="#a2c8f2" stroke="#5c9ce8" stroke-width="2"/>
<rect x="190.55" y="502.75" width="11.50" height="77.75" fill="#e6f0fc" stroke="#d2e2f8" stroke-width="2"/>
<rect x="211.00" y="509.41" width="11.50" height="71.09" fill="#8484ea" stroke="#2c2cd4" stroke-width="2"/>
<path d="M59.8,473.7V555" stroke="#000" stroke-width="1.3" fill="none"/>
<path d="M54.8,554.2H59.8" stroke="#000" stroke-width="1.3" fill="none"/>
<text x="53.7" y="557.2" text-anchor="end" font-size="8.3" font-weight="bold" fill="#111">5</text>
<path d="M54.8,527.6H59.8" stroke="#000" stroke-width="1.3" fill="none"/>
<text x="53.7" y="530.6" text-anchor="end" font-size="8.3" font-weight="bold" fill="#111">10</text>
<path d="M54.8,500.9H59.8" stroke="#000" stroke-width="1.3" fill="none"/>
<text x="53.7" y="503.9" text-anchor="end" font-size="8.3" font-weight="bold" fill="#111">15</text>
<path d="M54.8,474.3H59.8" stroke="#000" stroke-width="1.3" fill="none"/>
<text x="53.7" y="477.2" text-anchor="end" font-size="8.3" font-weight="bold" fill="#111">20</text>
<circle cx="89.6" cy="546.3" r="2.6" fill="#1c1cc4"/>
<circle cx="94.0" cy="544.7" r="2.6" fill="#1c1cc4"/>
<circle cx="98.5" cy="546.3" r="2.6" fill="#1c1cc4"/>
<path d="M114.5,542.6V549.4M111.9,542.6h5.2M111.9,549.4h5.2" stroke="#94b8f0" stroke-width="1" fill="none"/>
<path d="M114.5,538.2L117.6,543.8H111.4Z" fill="#94b8f0"/>
<path d="M111.5,544.1L114.6,549.7H108.4Z" fill="#94b8f0"/>
<path d="M117.5,544.1L120.6,549.7H114.4Z" fill="#94b8f0"/>
<path d="M134.9,498.7V502.1M132.3,498.7h5.2M132.3,502.1h5.2" stroke="#5454ea" stroke-width="1" fill="none"/>
<rect x="132.3" y="496.5" width="5.2" height="5.2" fill="#5454ea"/>
<rect x="127.8" y="499.4" width="5.2" height="5.2" fill="#5454ea"/>
<rect x="136.9" y="499.4" width="5.2" height="5.2" fill="#5454ea"/>
<path d="M151.8,506.5L154.9,512.1H148.7Z" fill="#38a2e2"/>
<path d="M155.4,505.7L158.5,511.3H152.3Z" fill="#38a2e2"/>
<path d="M159.0,506.5L162.1,512.1H155.9Z" fill="#38a2e2"/>
<path d="M175.8,494.6V498.2M173.2,494.6h5.2M173.2,498.2h5.2" stroke="#5c9ce8" stroke-width="1" fill="none"/>
<rect x="169.1" y="491.2" width="5.2" height="5.2" fill="#5c9ce8"/>
<rect x="173.2" y="494.6" width="5.2" height="5.2" fill="#5c9ce8"/>
<rect x="177.4" y="493.6" width="5.2" height="5.2" fill="#5c9ce8"/>
<path d="M193.3,506.9L196.4,501.3H190.2Z" fill="#c4d6f4"/>
<path d="M199.3,506.3L202.4,500.7H196.2Z" fill="#c4d6f4"/>
<path d="M212.2,504.6L215.3,510.2H209.0Z" fill="#2c2cd4"/>
<path d="M216.8,503.6L219.9,509.2H213.6Z" fill="#2c2cd4"/>
<path d="M221.3,504.6L224.5,510.2H218.2Z" fill="#2c2cd4"/>
<path d="M91.5,533.3h5.4M91.5,535.4h5.4M93.8,531.2l-1.0,6.2M95.8,531.2l-1.0,6.2" stroke="#111" stroke-width="1.1" fill="none"/>
<path d="M112.0,530.0h5.4M112.0,532.1h5.4M114.2,527.9l-1.0,6.2M116.3,527.9l-1.0,6.2" stroke="#111" stroke-width="1.1" fill="none"/>
<path d="M135.1,478.4L135.15,475.40M135.1,478.4L138.00,477.47M135.1,478.4L136.91,480.83M135.1,478.4L133.39,480.83M135.1,478.4L132.30,477.47" stroke="#111" stroke-width="1.35" fill="none"/>
<path d="M132.4,486.4h5.4M132.4,488.5h5.4M134.6,484.3l-1.0,6.2M136.7,484.3l-1.0,6.2" stroke="#111" stroke-width="1.1" fill="none"/>
<path d="M155.6,488.5L155.60,485.50M155.6,488.5L158.45,487.57M155.6,488.5L157.36,490.93M155.6,488.5L153.84,490.93M155.6,488.5L152.75,487.57" stroke="#111" stroke-width="1.35" fill="none"/>
<path d="M152.9,498.0h5.4M152.9,500.1h5.4M155.1,495.9l-1.0,6.2M157.2,495.9l-1.0,6.2" stroke="#111" stroke-width="1.1" fill="none"/>
<path d="M176.0,474.0L176.05,471.00M176.0,474.0L178.90,473.07M176.0,474.0L177.81,476.43M176.0,474.0L174.29,476.43M176.0,474.0L173.20,473.07" stroke="#111" stroke-width="1.35" fill="none"/>
<path d="M173.3,480.8h5.4M173.3,482.9h5.4M175.5,478.7l-1.0,6.2M177.6,478.7l-1.0,6.2" stroke="#111" stroke-width="1.1" fill="none"/>
<path d="M196.5,480.7L196.50,477.70M196.5,480.7L199.35,479.77M196.5,480.7L198.26,483.13M196.5,480.7L194.74,483.13M196.5,480.7L193.65,479.77" stroke="#111" stroke-width="1.35" fill="none"/>
<path d="M193.8,489.7h5.4M193.8,491.8h5.4M196.0,487.6l-1.0,6.2M198.1,487.6l-1.0,6.2" stroke="#111" stroke-width="1.1" fill="none"/>
<path d="M216.9,485.6L216.95,482.60M216.9,485.6L219.80,484.67M216.9,485.6L218.71,488.03M216.9,485.6L215.19,488.03M216.9,485.6L214.10,484.67" stroke="#111" stroke-width="1.35" fill="none"/>
<path d="M214.2,497.1h5.4M214.2,499.2h5.4M216.4,495.0l-1.0,6.2M218.5,495.0l-1.0,6.2" stroke="#111" stroke-width="1.1" fill="none"/>
<text x="385.7" y="453.7" text-anchor="middle" font-size="11" font-weight="bold" fill="#111"><tspan font-style="italic">Fli1</tspan> 7 days</text>
<text transform="translate(265.09999999999997,533.5) rotate(-90)" text-anchor="middle" font-size="12.3" font-weight="bold" fill="#111"><tspan font-style="italic">Fli1</tspan> expression</text>
<text transform="translate(277.7,533.1) rotate(-90)" text-anchor="middle" font-size="12.3" font-weight="bold" fill="#111">(relative to sham)</text>
<rect x="328.40" y="568.57" width="11.50" height="11.93" fill="#3a3ad4" stroke="#1c1cc4" stroke-width="2"/>
<rect x="348.85" y="568.57" width="11.50" height="11.93" fill="#bcd2f6" stroke="#a8c4f2" stroke-width="2"/>
<rect x="369.30" y="505.15" width="11.50" height="75.35" fill="#acacf2" stroke="#5454ea" stroke-width="2"/>
<rect x="389.75" y="515.81" width="11.50" height="64.69" fill="#86c6ee" stroke="#000000" stroke-width="2"/>
<rect x="410.20" y="508.35" width="11.50" height="72.15" fill="#a2c8f2" stroke="#5c9ce8" stroke-width="2"/>
<rect x="430.65" y="513.14" width="11.50" height="67.36" fill="#e6f0fc" stroke="#d2e2f8" stroke-width="2"/>
<rect x="451.10" y="497.15" width="11.50" height="83.35" fill="#8484ea" stroke="#2c2cd4" stroke-width="2"/>
<path d="M299.7,473.7V555" stroke="#000" stroke-width="1.3" fill="none"/>
<path d="M294.7,554.2H299.7" stroke="#000" stroke-width="1.3" fill="none"/>
<text x="293.6" y="557.2" text-anchor="end" font-size="8.3" font-weight="bold" fill="#111">5</text>
<path d="M294.7,527.6H299.7" stroke="#000" stroke-width="1.3" fill="none"/>
<text x="293.6" y="530.6" text-anchor="end" font-size="8.3" font-weight="bold" fill="#111">10</text>
<path d="M294.7,500.9H299.7" stroke="#000" stroke-width="1.3" fill="none"/>
<text x="293.6" y="503.9" text-anchor="end" font-size="8.3" font-weight="bold" fill="#111">15</text>
<path d="M294.7,474.3H299.7" stroke="#000" stroke-width="1.3" fill="none"/>
<text x="293.6" y="477.2" text-anchor="end" font-size="8.3" font-weight="bold" fill="#111">20</text>
<path d="M375.0,502.5V505.8M372.4,502.5h5.2M372.4,505.8h5.2" stroke="#5454ea" stroke-width="1" fill="none"/>
<rect x="372.4" y="498.9" width="5.2" height="5.2" fill="#5454ea"/>
<rect x="367.9" y="502.1" width="5.2" height="5.2" fill="#5454ea"/>
<rect x="376.9" y="501.0" width="5.2" height="5.2" fill="#5454ea"/>
<path d="M391.9,512.4L395.0,517.9H388.8Z" fill="#38a2e2"/>
<path d="M395.5,511.6L398.6,517.1H392.4Z" fill="#38a2e2"/>
<path d="M399.1,512.4L402.2,517.9H396.0Z" fill="#38a2e2"/>
<path d="M415.9,501.2V513.5M413.3,501.2h5.2M413.3,513.5h5.2" stroke="#5c9ce8" stroke-width="1" fill="none"/>
<rect x="413.3" y="498.9" width="5.2" height="5.2" fill="#5c9ce8"/>
<rect x="413.3" y="511.1" width="5.2" height="5.2" fill="#5c9ce8"/>
<rect x="416.3" y="504.7" width="5.2" height="5.2" fill="#5c9ce8"/>
<path d="M436.4,509.9V514.4M433.8,509.9h5.2M433.8,514.4h5.2" stroke="#c4d6f4" stroke-width="1" fill="none"/>
<path d="M436.4,513.3L439.5,507.7H433.3Z" fill="#c4d6f4"/>
<path d="M433.4,516.5L436.5,510.9H430.3Z" fill="#c4d6f4"/>
<path d="M452.2,492.4L455.4,498.0H449.1Z" fill="#2c2cd4"/>
<path d="M456.9,490.8L460.0,496.4H453.7Z" fill="#2c2cd4"/>
<path d="M461.5,492.4L464.6,498.0H458.3Z" fill="#2c2cd4"/>
<path d="M331.6,543.1h5.4M331.6,545.2h5.4M333.8,541.0l-1.0,6.2M335.9,541.0l-1.0,6.2" stroke="#111" stroke-width="1.1" fill="none"/>
<path d="M352.1,543.1h5.4M352.1,545.2h5.4M354.3,541.0l-1.0,6.2M356.4,541.0l-1.0,6.2" stroke="#111" stroke-width="1.1" fill="none"/>
<path d="M375.2,482.9L375.25,479.90M375.2,482.9L378.10,481.97M375.2,482.9L377.01,485.33M375.2,482.9L373.49,485.33M375.2,482.9L372.40,481.97" stroke="#111" stroke-width="1.35" fill="none"/>
<path d="M372.5,491.4h5.4M372.5,493.5h5.4M374.7,489.3l-1.0,6.2M376.8,489.3l-1.0,6.2" stroke="#111" stroke-width="1.1" fill="none"/>
<path d="M395.7,493.4L395.70,490.40M395.7,493.4L398.55,492.47M395.7,493.4L397.46,495.83M395.7,493.4L393.94,495.83M395.7,493.4L392.85,492.47" stroke="#111" stroke-width="1.35" fill="none"/>
<path d="M393.0,502.2h5.4M393.0,504.3h5.4M395.2,500.1l-1.0,6.2M397.3,500.1l-1.0,6.2" stroke="#111" stroke-width="1.1" fill="none"/>
<path d="M416.1,479.4L416.15,476.40M416.1,479.4L419.00,478.47M416.1,479.4L417.91,481.83M416.1,479.4L414.39,481.83M416.1,479.4L413.30,478.47" stroke="#111" stroke-width="1.35" fill="none"/>
<path d="M413.4,487.9h5.4M413.4,490.0h5.4M415.6,485.8l-1.0,6.2M417.8,485.8l-1.0,6.2" stroke="#111" stroke-width="1.1" fill="none"/>
<path d="M436.6,488.2L436.60,485.20M436.6,488.2L439.45,487.27M436.6,488.2L438.36,490.63M436.6,488.2L434.84,490.63M436.6,488.2L433.75,487.27" stroke="#111" stroke-width="1.35" fill="none"/>
<path d="M433.9,496.6h5.4M433.9,498.7h5.4M436.1,494.5l-1.0,6.2M438.2,494.5l-1.0,6.2" stroke="#111" stroke-width="1.1" fill="none"/>
<path d="M457.1,472.4L457.05,469.40M457.1,472.4L459.90,471.47M457.1,472.4L458.81,474.83M457.1,472.4L455.29,474.83M457.1,472.4L454.20,471.47" stroke="#111" stroke-width="1.35" fill="none"/>
<path d="M454.4,482.6h5.4M454.4,484.7h5.4M456.6,480.5l-1.0,6.2M458.7,480.5l-1.0,6.2" stroke="#111" stroke-width="1.1" fill="none"/>
<text x="627.2" y="453.7" text-anchor="middle" font-size="11" font-weight="bold" fill="#111"><tspan font-style="italic">Foxc2</tspan> 7 days</text>
<text transform="translate(505.70000000000005,534.0) rotate(-90)" text-anchor="middle" font-size="12.3" font-weight="bold" fill="#111"><tspan font-style="italic">Foxc2</tspan> expression</text>
<text transform="translate(518.3000000000001,533.6) rotate(-90)" text-anchor="middle" font-size="12.3" font-weight="bold" fill="#111">(relative to sham)</text>
<rect x="569.62" y="569.07" width="11.50" height="11.93" fill="#3a3ad4" stroke="#1c1cc4" stroke-width="2"/>
<rect x="590.09" y="569.07" width="11.50" height="11.93" fill="#bcd2f6" stroke="#a8c4f2" stroke-width="2"/>
<rect x="610.56" y="513.38" width="11.50" height="67.62" fill="#acacf2" stroke="#5454ea" stroke-width="2"/>
<rect x="631.03" y="511.24" width="11.50" height="69.76" fill="#86c6ee" stroke="#000000" stroke-width="2"/>
<rect x="651.50" y="504.05" width="11.50" height="76.95" fill="#a2c8f2" stroke="#5c9ce8" stroke-width="2"/>
<rect x="671.97" y="503.25" width="11.50" height="77.75" fill="#e6f0fc" stroke="#d2e2f8" stroke-width="2"/>
<rect x="692.44" y="566.41" width="11.50" height="14.59" fill="#8484ea" stroke="#2c2cd4" stroke-width="2"/>
<path d="M541.2,474.2V555" stroke="#000" stroke-width="1.3" fill="none"/>
<path d="M536.2,554.8H541.2" stroke="#000" stroke-width="1.3" fill="none"/>
<text x="535.1" y="557.7" text-anchor="end" font-size="8.3" font-weight="bold" fill="#111">5</text>
<path d="M536.2,528.1H541.2" stroke="#000" stroke-width="1.3" fill="none"/>
<text x="535.1" y="531.1" text-anchor="end" font-size="8.3" font-weight="bold" fill="#111">10</text>
<path d="M536.2,501.4H541.2" stroke="#000" stroke-width="1.3" fill="none"/>
<text x="535.1" y="504.4" text-anchor="end" font-size="8.3" font-weight="bold" fill="#111">15</text>
<path d="M536.2,474.8H541.2" stroke="#000" stroke-width="1.3" fill="none"/>
<text x="535.1" y="477.7" text-anchor="end" font-size="8.3" font-weight="bold" fill="#111">20</text>
<path d="M616.3,509.0V515.8M613.7,509.0h5.2M613.7,515.8h5.2" stroke="#5454ea" stroke-width="1" fill="none"/>
<rect x="613.7" y="505.5" width="5.2" height="5.2" fill="#5454ea"/>
<rect x="609.1" y="511.6" width="5.2" height="5.2" fill="#5454ea"/>
<rect x="618.3" y="511.1" width="5.2" height="5.2" fill="#5454ea"/>
<path d="M636.8,505.7L639.9,511.3H633.7Z" fill="#38a2e2"/>
<path d="M633.2,507.8L636.3,513.4H630.1Z" fill="#38a2e2"/>
<path d="M640.4,507.8L643.5,513.4H637.3Z" fill="#38a2e2"/>
<path d="M657.3,493.6V512.5M654.7,493.6h5.2M654.7,512.5h5.2" stroke="#5c9ce8" stroke-width="1" fill="none"/>
<rect x="654.7" y="491.9" width="5.2" height="5.2" fill="#5c9ce8"/>
<rect x="654.7" y="498.3" width="5.2" height="5.2" fill="#5c9ce8"/>
<rect x="654.7" y="510.6" width="5.2" height="5.2" fill="#5c9ce8"/>
<path d="M677.7,500.0V504.5M675.1,500.0h5.2M675.1,504.5h5.2" stroke="#c4d6f4" stroke-width="1" fill="none"/>
<path d="M675.7,503.6L678.8,498.0H672.6Z" fill="#c4d6f4"/>
<path d="M680.7,506.8L683.8,501.2H677.6Z" fill="#c4d6f4"/>
<path d="M677.7,507.9L680.8,502.3H674.6Z" fill="#c4d6f4"/>
<path d="M572.9,546.6h5.4M572.9,548.7h5.4M575.1,544.5l-1.0,6.2M577.2,544.5l-1.0,6.2" stroke="#111" stroke-width="1.1" fill="none"/>
<path d="M593.3,546.6h5.4M593.3,548.7h5.4M595.5,544.5l-1.0,6.2M597.6,544.5l-1.0,6.2" stroke="#111" stroke-width="1.1" fill="none"/>
<path d="M616.5,489.1L616.51,486.10M616.5,489.1L619.36,488.17M616.5,489.1L618.27,491.53M616.5,489.1L614.75,491.53M616.5,489.1L613.66,488.17" stroke="#111" stroke-width="1.35" fill="none"/>
<path d="M613.8,497.5h5.4M613.8,499.6h5.4M616.0,495.4l-1.0,6.2M618.1,495.4l-1.0,6.2" stroke="#111" stroke-width="1.1" fill="none"/>
<path d="M637.0,489.1L636.98,486.10M637.0,489.1L639.83,488.17M637.0,489.1L638.74,491.53M637.0,489.1L635.22,491.53M637.0,489.1L634.13,488.17" stroke="#111" stroke-width="1.35" fill="none"/>
<path d="M634.3,499.3h5.4M634.3,501.4h5.4M636.5,497.2l-1.0,6.2M638.6,497.2l-1.0,6.2" stroke="#111" stroke-width="1.1" fill="none"/>
<path d="M657.5,474.5L657.45,471.50M657.5,474.5L660.30,473.57M657.5,474.5L659.21,476.93M657.5,474.5L655.69,476.93M657.5,474.5L654.60,473.57" stroke="#111" stroke-width="1.35" fill="none"/>
<path d="M654.8,481.4h5.4M654.8,483.5h5.4M657.0,479.3l-1.0,6.2M659.1,479.3l-1.0,6.2" stroke="#111" stroke-width="1.1" fill="none"/>
<path d="M677.9,481.3L677.92,478.30M677.9,481.3L680.77,480.37M677.9,481.3L679.68,483.73M677.9,481.3L676.16,483.73M677.9,481.3L675.07,480.37" stroke="#111" stroke-width="1.35" fill="none"/>
<path d="M675.2,490.3h5.4M675.2,492.4h5.4M677.4,488.2l-1.0,6.2M679.5,488.2l-1.0,6.2" stroke="#111" stroke-width="1.1" fill="none"/>
<path d="M698.4,535.0L698.39,532.00M698.4,535.0L701.24,534.07M698.4,535.0L700.15,537.43M698.4,535.0L696.63,537.43M698.4,535.0L695.54,534.07" stroke="#111" stroke-width="1.35" fill="none"/>
<path d="M695.7,545.1h5.4M695.7,547.2h5.4M697.9,543.0l-1.0,6.2M700.0,543.0l-1.0,6.2" stroke="#111" stroke-width="1.1" fill="none"/>
</g>
</svg></body></html>
